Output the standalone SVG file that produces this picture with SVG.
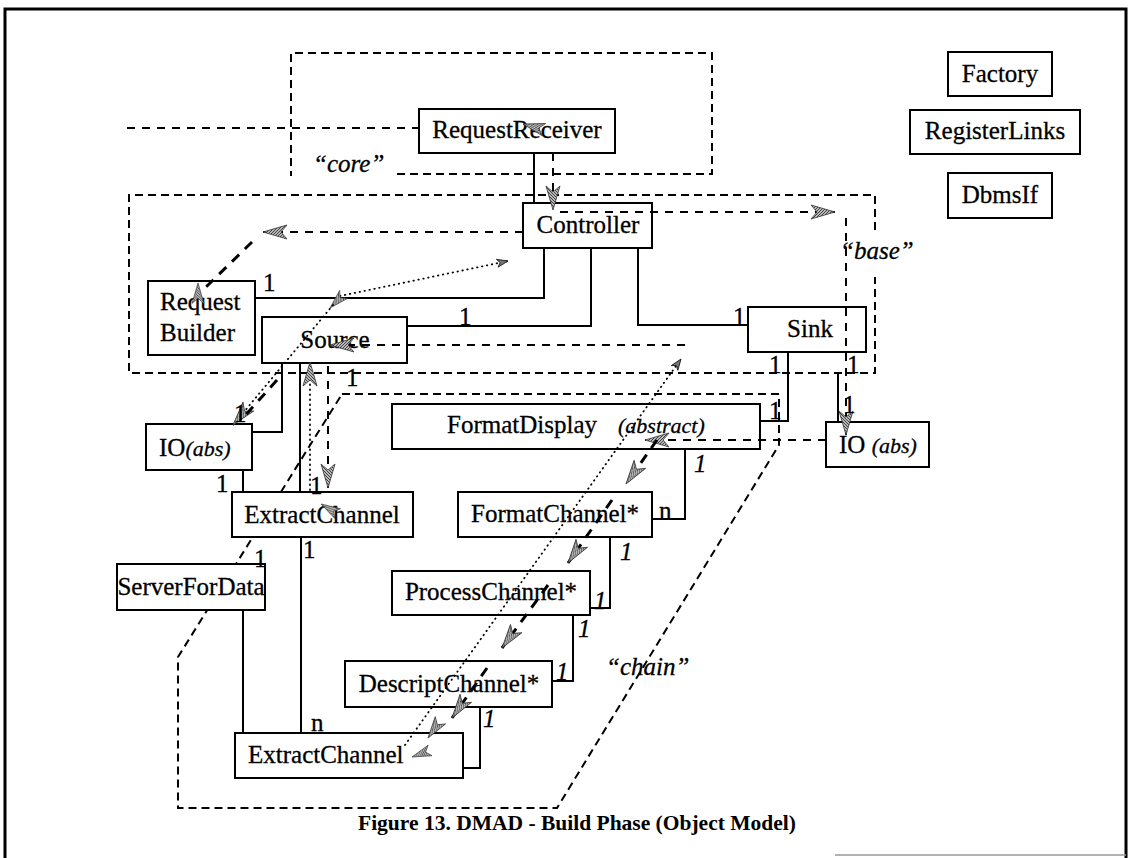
<svg xmlns="http://www.w3.org/2000/svg" xmlns:xlink="http://www.w3.org/1999/xlink" width="1130" height="858" viewBox="0 0 1130 858">
  <style>
    .box{fill:#fff;stroke:#000;stroke-width:2}
    .t{font-family:"Liberation Serif","Times New Roman",serif;font-size:25px;fill:#000;stroke:#000;stroke-width:0.3}
    .i{font-style:italic}
    .sm{font-size:22px}
    .mid{text-anchor:middle}
    .solid{fill:none;stroke:#000;stroke-width:2}
    .region{fill:none;stroke:#000;stroke-width:2;stroke-dasharray:8 5}
    .msg{fill:none;stroke:#000;stroke-width:2;stroke-dasharray:8 7}
    .msg2{fill:none;stroke:#000;stroke-width:3;stroke-dasharray:10 8}
    .dot{fill:none;stroke:#000;stroke-width:1.8;stroke-dasharray:0.5 4.5;stroke-linecap:round}
    .head{fill:url(#hatch);stroke:#333;stroke-width:0.8}
    .cap{font-family:"Liberation Serif","Times New Roman",serif;font-size:21.5px;font-weight:bold;fill:#000}
  </style>
  <defs>
    <pattern id="hatch" width="3" height="3" patternUnits="userSpaceOnUse">
      <rect width="3" height="3" fill="#b8b8b8"/>
      <path d="M0,3 L3,0" stroke="#333" stroke-width="0.9"/>
    </pattern>
    <path id="hd" d="M-24,-7 L0,0 L-24,7 L-18,0 z" class="head"/>
    <marker id="ah" markerUnits="userSpaceOnUse" markerWidth="28" markerHeight="18" refX="24" refY="7" orient="auto" overflow="visible">
      <path d="M0,0 L24,7 L0,14 L6,7 z" class="head"/>
    </marker>
    <marker id="ahs" markerUnits="userSpaceOnUse" markerWidth="14" markerHeight="10" refX="11" refY="4" orient="auto" overflow="visible">
      <path d="M0,0 L11,4 L0,8 L3,4 z" fill="#777" stroke="#111" stroke-width="0.8"/>
    </marker>
  </defs>

  <rect width="1130" height="858" fill="#fff"/>

  <!-- page frame -->
  <path d="M5,858 V9 H1126 V858" fill="none" stroke="#000" stroke-width="3"/>
  <path d="M835,855 H1126" fill="none" stroke="#999" stroke-width="1.5"/>

  <!-- package boundaries -->
  <g id="regions">
    <path class="region" d="M397,174 H712 V53 H291 V176"/>
    <path class="region" d="M875,230 V195 H129 V373 H875 V277"/>
    <path class="region" d="M342,394 H779 V445 L557,808 H178 V657 Z"/>
    <text class="t i" x="313" y="172" font-size="22">“core”</text>
    <text class="t i" x="840" y="259" font-size="24">“base”</text>
    <text class="t i" x="606" y="675" font-size="23">“chain”</text>
  </g>

  <!-- classes -->
  <g id="nodes">
    <g id="request-receiver"><rect class="box" x="419" y="109" width="196" height="44"/><text class="t mid" x="517" y="138">RequestReceiver</text></g>
    <g id="controller"><rect class="box" x="523" y="203" width="129" height="45"/><text class="t mid" x="588" y="233">Controller</text></g>
    <g id="factory"><rect class="box" x="948" y="52" width="104" height="44"/><text class="t mid" x="1000" y="82">Factory</text></g>
    <g id="register-links"><rect class="box" x="910" y="110" width="170" height="44"/><text class="t mid" x="995" y="139">RegisterLinks</text></g>
    <g id="dbms-if"><rect class="box" x="948" y="173" width="104" height="45"/><text class="t mid" x="1000" y="203">DbmsIf</text></g>
    <g id="request-builder"><rect class="box" x="148" y="281" width="107" height="74"/><text class="t" x="160" y="310">Request</text><text class="t" x="160" y="341">Builder</text></g>
    <g id="source"><rect class="box" x="262" y="317" width="145" height="46"/><text class="t mid" x="335" y="348">Source</text></g>
    <g id="sink"><rect class="box" x="748" y="307" width="118" height="45"/><text class="t mid" x="810" y="337">Sink</text></g>
    <g id="io-left"><rect class="box" x="146" y="424" width="106" height="46"/><text class="t" x="159" y="456">IO<tspan class="i sm">(abs)</tspan></text></g>
    <g id="io-right"><rect class="box" x="826" y="422" width="103" height="45"/><text class="t" x="839" y="453">IO <tspan class="i sm">(abs)</tspan></text></g>
    <g id="format-display"><rect class="box" x="392" y="404" width="368" height="45"/><text class="t" x="447" y="433">FormatDisplay</text><text class="t i sm" x="618" y="433">(abstract)</text></g>
    <g id="extract-channel"><rect class="box" x="232" y="492" width="181" height="45"/><text class="t mid" x="322" y="523">ExtractChannel</text></g>
    <g id="server-for-data"><rect class="box" x="117" y="564" width="148" height="46"/><text class="t mid" x="191" y="595" font-size="22">ServerForData</text></g>
    <g id="format-channel"><rect class="box" x="458" y="492" width="194" height="45"/><text class="t mid" x="555" y="522">FormatChannel*</text></g>
    <g id="process-channel"><rect class="box" x="392" y="571" width="198" height="44"/><text class="t mid" x="491" y="600">ProcessChannel*</text></g>
    <g id="descript-channel"><rect class="box" x="345" y="661" width="207" height="46"/><text class="t mid" x="449" y="692">DescriptChannel*</text></g>
    <g id="extract-channel-chain"><rect class="box" x="235" y="733" width="228" height="45"/><text class="t" x="248" y="763">ExtractChannel</text></g>
  </g>

  <!-- associations and messages -->
  <g id="connectors">
    <!-- associations -->
    <path class="solid" d="M534,153 V203"/>
    <path class="solid" d="M255,298 H544 V248"/>
    <path class="solid" d="M407,326 H591 V248"/>
    <path class="solid" d="M638,248 V325 H748"/>
    <path class="solid" d="M788,352 V421 H760"/>
    <path class="solid" d="M838,372 V422"/>
    <path class="solid" d="M685,449 V519 H652"/>
    <path class="solid" d="M610,537 V608 H590"/>
    <path class="solid" d="M573,615 V681 H552"/>
    <path class="solid" d="M480,707 V768 H463"/>
    <path class="solid" d="M282,363 V432 H252"/>
    <path class="solid" d="M300,363 V492"/>
    <path class="solid" d="M243,470 V492"/>
    <path class="solid" d="M301,537 V733"/>
    <path class="solid" d="M243,610 V733"/>

    <!-- messages -->
    <path class="msg" d="M127,128 H419"/>
    <use xlink:href="#hd" transform="translate(523,124) rotate(195) scale(0.9)"/>
    <path class="msg" d="M553,153 V210" marker-end="url(#ah)"/>
    <path class="msg" d="M560,212 H835" marker-end="url(#ah)"/>
    <path class="msg" d="M846,218 V435" stroke-dasharray="5 6" marker-end="url(#ah)"/>
    <path class="msg" d="M523,232 H263" marker-end="url(#ah)"/>
    <path class="msg2" d="M252,242 L205,288"/>
    <use xlink:href="#hd" transform="translate(198,283) rotate(-90) scale(0.85)"/>
    <path class="dot" d="M340,296 L508,261" marker-end="url(#ahs)"/>
    <use xlink:href="#hd" transform="translate(330,308) rotate(135) scale(0.8)"/>
    <path class="dot" d="M333,305 L233,425" marker-end="url(#ah)"/>
    <path class="msg2" d="M277,380 L243,418"/>
    <path class="msg" d="M328,366 V488" stroke-dasharray="6 6" marker-end="url(#ah)"/>
    <path class="dot" d="M310,490 V362" marker-end="url(#ah)"/>
    <use xlink:href="#hd" transform="translate(321,504) rotate(-150) scale(0.8)"/>
    <path class="msg" d="M685,345 H330" marker-end="url(#ah)"/>
    <path class="dot" d="M405,745 L681,359" marker-end="url(#ahs)"/>
    <use xlink:href="#hd" transform="translate(412,757) rotate(160) scale(0.8)"/>
    <path class="msg" d="M826,440 H645" marker-end="url(#ah)"/>
    <path class="msg2" d="M657,440 L626,484" marker-end="url(#ah)"/>
    <path class="msg2" d="M612,500 L568,563" marker-end="url(#ah)"/>
    <path class="msg2" d="M548,585 L502,648" marker-end="url(#ah)"/>
    <path class="msg2" d="M487,668 L452,718" marker-end="url(#ah)"/>
    <use xlink:href="#hd" transform="translate(428,738) rotate(125) scale(0.9)"/>
  </g>

  <!-- multiplicities -->
  <g id="multiplicities">
    <text class="t" x="263" y="291">1</text>
    <text class="t" x="459" y="325">1</text>
    <text class="t" x="733" y="325">1</text>
    <text class="t" x="769" y="373">1</text>
    <text class="t" x="847" y="373">1</text>
    <text class="t" x="843" y="413">1</text>
    <text class="t" x="769" y="419">1</text>
    <text class="t" x="346" y="386" font-size="20">1</text>
    <text class="t" x="234" y="422" font-size="20">1</text>
    <text class="t" x="216" y="492">1</text>
    <text class="t" x="310" y="494" font-size="18">1</text>
    <text class="t" x="303" y="558">1</text>
    <text class="t" x="254" y="567" font-size="20">1</text>
    <text class="t" x="311" y="731">n</text>
    <text class="t i" x="694" y="472">1</text>
    <text class="t" x="659" y="519">n</text>
    <text class="t i" x="620" y="560">1</text>
    <text class="t i" x="594" y="609">1</text>
    <text class="t i" x="578" y="637">1</text>
    <text class="t i" x="556" y="680">1</text>
    <text class="t i" x="483" y="727">1</text>
  </g>

  <text class="cap" x="358" y="830">Figure  13.  DMAD - Build Phase (Object Model)</text>
</svg>
